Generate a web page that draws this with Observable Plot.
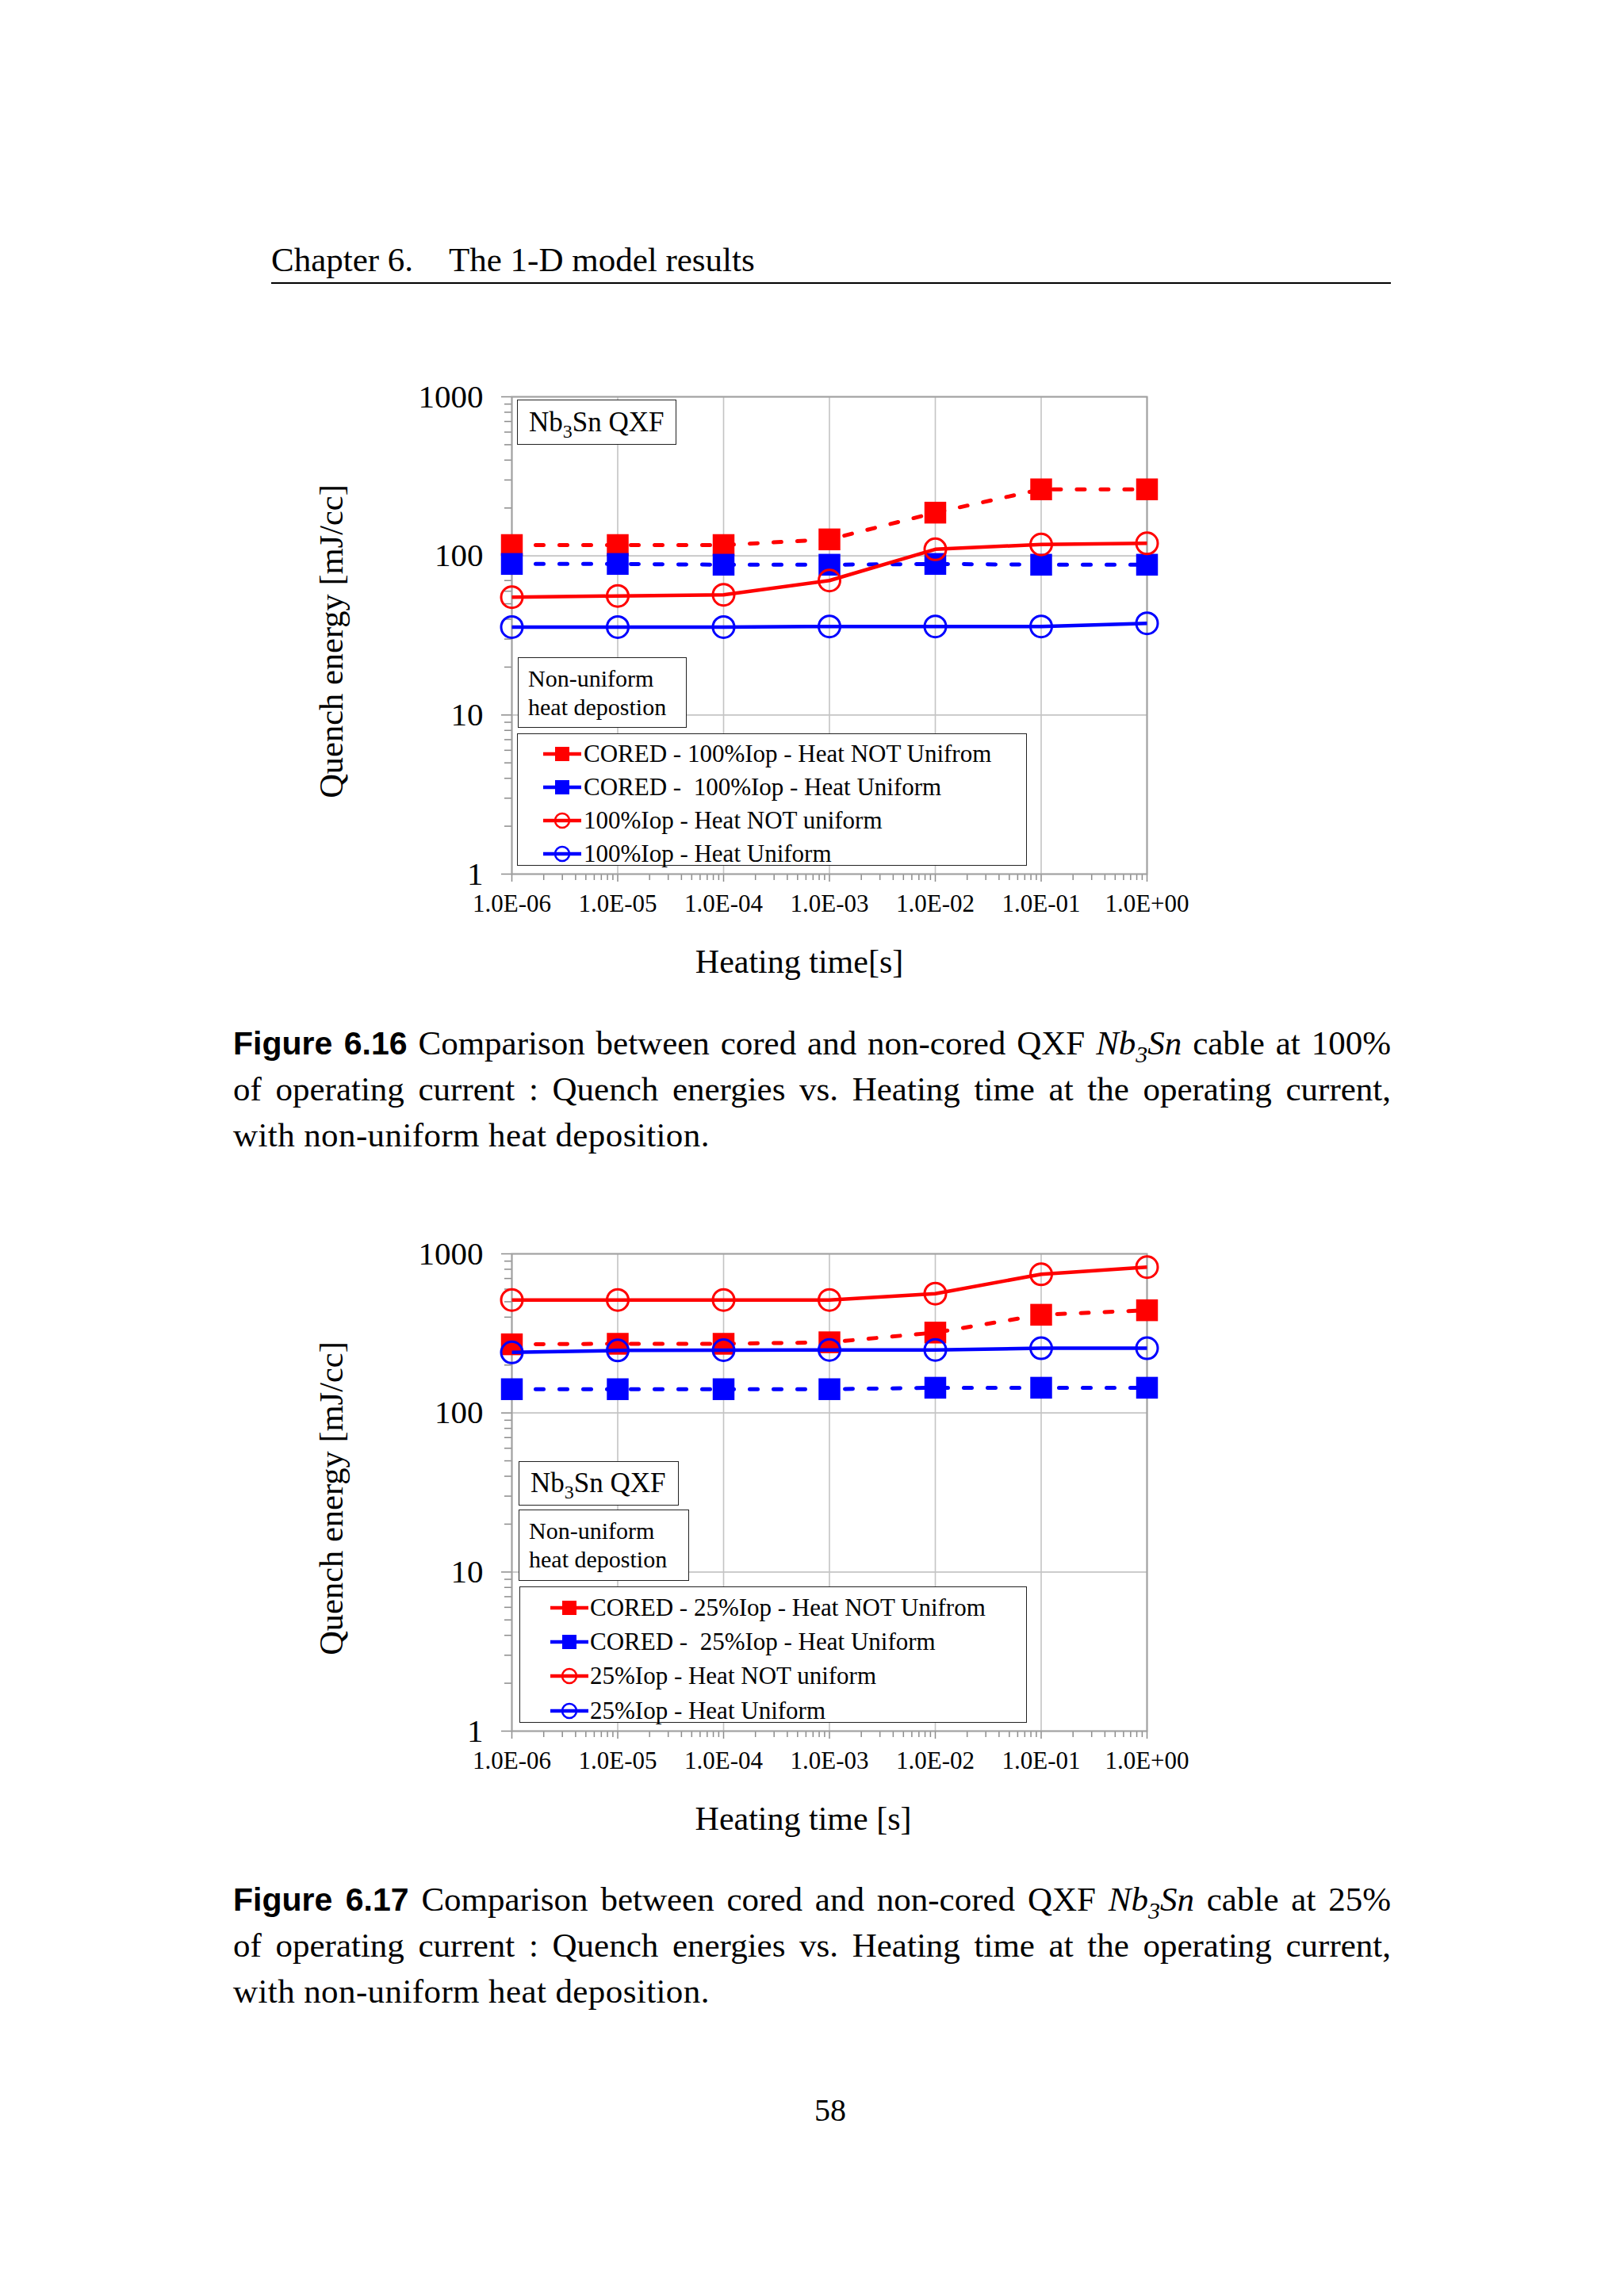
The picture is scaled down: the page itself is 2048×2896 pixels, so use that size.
<!DOCTYPE html>
<html>
<head>
<meta charset="utf-8">
<script src="https://cdn.jsdelivr.net/npm/d3@7"></script>
<script src="https://cdn.jsdelivr.net/npm/@observablehq/plot@0.6"></script>
<style>
  html, body { margin: 0; padding: 0; background: #fff; }
  #page { position: relative; width: 2048px; height: 2896px; background: #fff; overflow: hidden; font-family: "Liberation Serif", "Times New Roman", serif; color: #000; }
  .abs { position: absolute; }
  .cap { position: absolute; left: 294px; width: 1460px; font-size: 43px; line-height: 1; white-space: nowrap; }
  .just { text-align: justify; text-align-last: justify; white-space: normal; }
  .figlab { font-family: "Liberation Sans", Arial, sans-serif; font-weight: bold; font-size: 41px; }
  .box { position: absolute; border: 1.5px solid #222; background: #fff; box-sizing: border-box; }
  .lgtext { position: absolute; font-size: 31px; line-height: 1; white-space: pre; transform: translateY(-52%); }
  .chart { position: absolute; }
  .ytitle { position: absolute; font-size: 42.5px; line-height: 1; white-space: nowrap; transform: translate(-50%, -50%) rotate(-90deg); }
</style>
</head>
<body>
<div id="page">
  <div class="abs" style="left:342px; top:306px; font-size:43px; line-height:1;">Chapter 6.</div>
  <div class="abs" style="left:566px; top:306px; font-size:43px; line-height:1;">The 1-D model results</div>
  <div class="abs" style="left:342px; top:356px; width:1412px; height:2px; background:#000;"></div>

  <div id="chart1" class="chart" style="left:380px; top:440px;"></div>
  <div id="chart2" class="chart" style="left:380px; top:1521px;"></div>

  <div class="ytitle" style="left:418px; top:809px;">Quench energy [mJ/cc]</div>
  <div class="ytitle" style="left:418px; top:1890px;">Quench energy [mJ/cc]</div>

  <div id="overlay"></div>

  <div class="cap just" style="top:1294px;"><span class="figlab">Figure 6.16</span> Comparison between cored and non-cored QXF <i>Nb<sub style="font-size:30px;">3</sub>Sn</i> cable at 100%</div>
  <div class="cap just" style="top:1352px;">of operating current : Quench energies vs. Heating time at the operating current,</div>
  <div class="cap" style="top:1410px; letter-spacing:0.4px;">with non-uniform heat deposition.</div>

  <div class="cap just" style="top:2374px;"><span class="figlab">Figure 6.17</span> Comparison between cored and non-cored QXF <i>Nb<sub style="font-size:30px;">3</sub>Sn</i> cable at 25%</div>
  <div class="cap just" style="top:2432px;">of operating current : Quench energies vs. Heating time at the operating current,</div>
  <div class="cap" style="top:2490px; letter-spacing:0.4px;">with non-uniform heat deposition.</div>

  <div class="abs" style="left:1047px; top:2642px; font-size:40px; line-height:1; transform:translateX(-50%);">58</div>
</div>
<script>
// ---- data ----
const heatingTimes = [1e-6, 1e-5, 1e-4, 1e-3, 1e-2, 1e-1, 1];
const xTickLabels = ["1.0E-06", "1.0E-05", "1.0E-04", "1.0E-03", "1.0E-02", "1.0E-01", "1.0E+00"];
const yTicks = [1, 10, 100, 1000];
const yTickLabels = ["1", "10", "100", "1000"];

const seriesColors = ["#ff0000", "#0000ff", "#ff0000", "#0000ff"];
const seriesSymbols = ["square", "square", "circle", "circle"];
const seriesDashed = [true, true, false, false];

// Figure 6.16 (100% Iop)
const names100 = ["CORED - 100%Iop - Heat NOT Unifrom", "CORED -  100%Iop - Heat Uniform", "100%Iop - Heat NOT uniform", "100%Iop - Heat Uniform"];
const cored100NotUniform = [117, 117, 117, 127, 187, 262, 262];
const cored100Uniform = [89, 89, 88, 88, 89, 88, 88];
const plain100NotUniform = [55, 56, 57, 70, 110, 118, 120];
const plain100Uniform = [35.7, 35.7, 35.7, 36, 36, 36, 37.7];

// Figure 6.17 (25% Iop)
const names25 = ["CORED - 25%Iop - Heat NOT Unifrom", "CORED -  25%Iop - Heat Uniform", "25%Iop - Heat NOT uniform", "25%Iop - Heat Uniform"];
const cored25NotUniform = [270, 272, 272, 278, 320, 414, 442];
const cored25Uniform = [141, 141, 141, 141, 144, 144, 144];
const plain25NotUniform = [513, 513, 513, 513, 562, 744, 825];
const plain25Uniform = [240, 247, 248, 249, 249, 255, 255];

// minor tick positions (log axis helpers)
const xMinor = [];
for (let k = -6; k < 0; k++) for (let m = 2; m <= 9; m++) xMinor.push(m * Math.pow(10, k));
const yMinor = [];
for (let k = 0; k < 3; k++) for (let m = 2; m <= 9; m++) yMinor.push(m * Math.pow(10, k));

function buildChart(seriesValues, names, xTitle, xTitleDx) {
  const rows = [];
  seriesValues.forEach((vals, s) => {
    vals.forEach((v, i) => rows.push({series: s, name: names[s], t: heatingTimes[i], e: v}));
  });
  const marks = [
    Plot.gridX(heatingTimes, {stroke: "#c4c4c4", strokeOpacity: 1, strokeWidth: 1.6}),
    Plot.gridY(yTicks, {stroke: "#c4c4c4", strokeOpacity: 1, strokeWidth: 1.6}),
    Plot.axisY({ticks: yMinor, tickSize: 9, tickFormat: () => "", label: null, stroke: "#8c8c8c", strokeWidth: 1.5}),
    Plot.axisY({ticks: yTicks, tickSize: 13, tickPadding: 23, fontSize: 41, label: null, stroke: "#8c8c8c", strokeWidth: 1.5,
      tickFormat: d => yTickLabels[yTicks.indexOf(d)]}),
    Plot.axisX({ticks: xMinor, tickSize: 8, tickFormat: () => "", label: null, stroke: "#8c8c8c", strokeWidth: 1.5}),
    Plot.axisX({ticks: heatingTimes, tickSize: 10, tickPadding: 15, fontSize: 31, label: null, stroke: "#8c8c8c", strokeWidth: 1.5,
      tickFormat: d => xTickLabels[heatingTimes.indexOf(d)]}),
    Plot.frame({stroke: "#a0a0a0", strokeWidth: 2})
  ];
  seriesValues.forEach((vals, s) => {
    const d = rows.filter(r => r.series === s);
    marks.push(Plot.line(d, {x: "t", y: "e", stroke: seriesColors[s], strokeWidth: seriesDashed[s] ? 5 : 4.5,
      strokeDasharray: seriesDashed[s] ? "10,20" : null, strokeLinecap: seriesDashed[s] ? "round" : "butt"}));
    if (seriesSymbols[s] === "square") {
      marks.push(Plot.dot(d, {x: "t", y: "e", symbol: "square", r: 15.5, fill: seriesColors[s], stroke: "none"}));
    } else {
      marks.push(Plot.dot(d, {x: "t", y: "e", symbol: "circle", r: 13.5, fill: "none", stroke: seriesColors[s], strokeWidth: 3}));
    }
  });
  marks.push(Plot.text([xTitle], {frameAnchor: "bottom", dx: xTitleDx, dy: 124, fontSize: 42, fill: "#000"}));
  return Plot.plot({
    width: 1150, height: 860,
    marginLeft: 265, marginRight: 84, marginTop: 60, marginBottom: 198,
    x: {type: "log", domain: [1e-6, 1], label: null},
    y: {type: "log", domain: [1, 1000], label: null},
    style: {fontFamily: "'Liberation Serif', 'Times New Roman', serif", background: "transparent", color: "#000", overflow: "visible"},
    marks
  });
}

document.getElementById("chart1").appendChild(
  buildChart([cored100NotUniform, cored100Uniform, plain100NotUniform, plain100Uniform], names100, "Heating time[s]", -38));
document.getElementById("chart2").appendChild(
  buildChart([cored25NotUniform, cored25Uniform, plain25NotUniform, plain25Uniform], names25, "Heating time [s]", -33));

// ---- in-plot boxes and legends (overlay) ----
const overlay = document.getElementById("overlay");
function addBox(left, top, w, h, html, padLeft, fontSize, lineHeight) {
  const b = document.createElement("div");
  b.className = "box";
  Object.assign(b.style, {left: left + "px", top: top + "px", width: w + "px", height: h + "px",
    display: "flex", flexDirection: "column", justifyContent: "center", paddingLeft: padLeft + "px",
    fontSize: fontSize + "px", lineHeight: lineHeight + "px", whiteSpace: "nowrap"});
  b.innerHTML = html;
  overlay.appendChild(b);
}
const nbHtml = '<div>Nb<sub style="font-size:24px; line-height:0;">3</sub>Sn QXF</div>';
const nuHtml = '<div>Non-uniform</div><div>heat depostion</div>';
addBox(652, 504, 201, 57, nbHtml, 14, 35, 40);
addBox(653, 829, 213, 89, nuHtml, 12, 30, 36);
addBox(654, 1843, 202, 56, nbHtml, 14, 35, 40);
addBox(654, 1904, 215, 90, nuHtml, 12, 30, 36);

function addLegend(left, top, w, h, names, sampleX, textX, rowYs) {
  const b = document.createElement("div");
  b.className = "box";
  Object.assign(b.style, {left: left + "px", top: top + "px", width: w + "px", height: h + "px"});
  names.forEach((n, i) => {
    const svgNS = "http://www.w3.org/2000/svg";
    const svg = document.createElementNS(svgNS, "svg");
    svg.setAttribute("width", 50); svg.setAttribute("height", 26);
    svg.style.position = "absolute"; svg.style.left = sampleX + "px"; svg.style.top = (rowYs[i] - 13) + "px";
    const ln = document.createElementNS(svgNS, "line");
    ln.setAttribute("x1", 1); ln.setAttribute("x2", 49); ln.setAttribute("y1", 13); ln.setAttribute("y2", 13);
    ln.setAttribute("stroke", seriesColors[i]); ln.setAttribute("stroke-width", 4.5);
    svg.appendChild(ln);
    if (seriesSymbols[i] === "square") {
      const r = document.createElementNS(svgNS, "rect");
      r.setAttribute("x", 16); r.setAttribute("y", 4); r.setAttribute("width", 18); r.setAttribute("height", 18);
      r.setAttribute("fill", seriesColors[i]);
      svg.appendChild(r);
    } else {
      const c = document.createElementNS(svgNS, "circle");
      c.setAttribute("cx", 25); c.setAttribute("cy", 13); c.setAttribute("r", 9);
      c.setAttribute("fill", "none"); c.setAttribute("stroke", seriesColors[i]); c.setAttribute("stroke-width", 2.5);
      svg.appendChild(c);
    }
    b.appendChild(svg);
    const t = document.createElement("div");
    t.className = "lgtext";
    t.style.left = textX + "px"; t.style.top = rowYs[i] + "px";
    t.textContent = n;
    b.appendChild(t);
  });
  overlay.appendChild(b);
}
addLegend(652, 925, 643, 167, names100, 31, 83, [25, 67, 109, 151]);
addLegend(655, 2001, 640, 172, names25, 37, 88, [26, 69, 112, 156]);
</script>
</body>
</html>
